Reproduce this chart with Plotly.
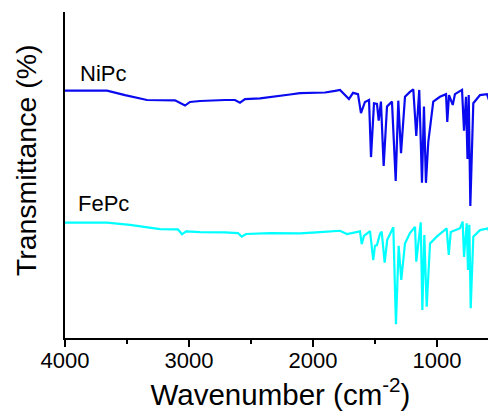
import plotly.graph_objects as go

# Wavenumber (cm^-1) and transmittance (offset, arbitrary %)
nipc_wn = [4000, 3661, 3516, 3339, 3113, 3032, 2992, 2911, 2710, 2629, 2589, 2548, 2427, 2306,
           2185, 2105, 2024, 1903, 1822, 1782, 1710, 1677, 1637, 1613, 1581, 1548, 1532, 1508,
           1484, 1470, 1452, 1430, 1403, 1363, 1333, 1312, 1290, 1258, 1218, 1191, 1167, 1143,
           1121, 1105, 1089, 1070, 1030, 976, 927, 917, 903, 873, 855, 798, 782, 766, 754, 744,
           731, 707, 653, 597, 581, 564, 524, 500]
nipc_t = [75.9, 75.9, 74.5, 73.0, 72.9, 71.3, 72.4, 72.7, 73.0, 73.0, 72.2, 73.3, 73.5, 74.2,
          74.7, 75.1, 75.2, 75.3, 75.8, 76.1, 73.3, 75.2, 74.8, 69.0, 72.4, 73.0, 55.5, 72.0,
          71.8, 66.7, 72.5, 52.8, 71.0, 72.5, 48.2, 72.8, 56.7, 74.0, 75.5, 76.3, 62.0, 76.1,
          47.6, 71.0, 47.6, 60.2, 72.5, 74.0, 74.8, 66.3, 74.5, 71.5, 74.8, 76.1, 63.6, 74.0,
          54.9, 74.5, 40.5, 72.0, 74.5, 74.8, 73.0, 75.5, 75.8, 75.8]

fepc_wn = [4000, 3661, 3476, 3234, 3089, 3056, 3024, 2911, 2710, 2605, 2575, 2540, 2347, 2105,
           1943, 1782, 1726, 1661, 1621, 1607, 1589, 1540, 1514, 1500, 1484, 1460, 1446, 1422,
           1401, 1352, 1331, 1309, 1288, 1258, 1218, 1177, 1167, 1131, 1118, 1102, 1083, 1056,
           1002, 922, 905, 889, 814, 793, 782, 760, 750, 739, 728, 707, 653, 589, 572, 556, 524, 500]
fepc_t = [35.4, 35.4, 34.7, 33.4, 33.3, 31.8, 32.7, 32.5, 32.4, 32.2, 31.1, 31.9, 32.2, 32.1,
          32.5, 32.9, 31.9, 32.5, 32.7, 28.8, 31.3, 32.8, 23.9, 28.3, 28.5, 31.9, 32.6, 23.1,
          30.1, 34.0, 4.2, 28.3, 17.8, 29.0, 32.2, 34.1, 23.4, 35.5, 8.6, 31.6, 9.6, 29.0,
          31.1, 33.6, 25.5, 32.5, 33.7, 35.7, 24.9, 35.2, 20.9, 34.7, 9.1, 31.1, 33.1, 33.6,
          32.1, 34.1, 35.2, 35.4]

labels = ["NiPc", "FePc"]
x_ticks = [4000, 3000, 2000, 1000]

FONT = "Arial, Liberation Sans, sans-serif"

fig = go.Figure()
fig.add_trace(go.Scatter(x=nipc_wn, y=nipc_t, mode="lines", name=labels[0],
                         line=dict(color="#0A0AF0", width=2.2)))
fig.add_trace(go.Scatter(x=fepc_wn, y=fepc_t, mode="lines", name=labels[1],
                         line=dict(color="#00FFFF", width=2.2)))

fig.add_annotation(x=3895, y=81.1, text=labels[0], showarrow=False, xanchor="left",
                   yanchor="middle", font=dict(family=FONT, size=22, color="black"))
fig.add_annotation(x=3911, y=41.3, text=labels[1], showarrow=False, xanchor="left",
                   yanchor="middle", font=dict(family=FONT, size=22, color="black"))

fig.add_annotation(xref="paper", yref="paper", x=-0.09, y=0.546, text="Transmittance (%)",
                   textangle=-90, showarrow=False, xanchor="center", yanchor="middle",
                   font=dict(family=FONT, size=28.5, color="black"))

fig.update_layout(
    width=488, height=407,
    margin=dict(l=57, r=0, t=4, b=77),
    paper_bgcolor="white", plot_bgcolor="white",
    showlegend=False,
    font=dict(family=FONT, color="black"),
    xaxis=dict(range=[4000, 524], tickvals=x_ticks, ticktext=[str(v) for v in x_ticks],
               showline=True, linecolor="black", linewidth=1.5, mirror=False,
               ticks="outside", ticklen=7, tickwidth=1.5, tickcolor="black",
               ticklabelstandoff=-5,
               minor=dict(tickvals=[3500, 2500, 1500], ticks="outside", ticklen=4,
                          tickwidth=1.5, tickcolor="black"),
               showgrid=False, zeroline=False,
               tickfont=dict(family=FONT, size=22, color="black"),
               title=dict(text="Wavenumber (cm<sup>-2</sup>)", standoff=8,
                          font=dict(family=FONT, size=29.5, color="black"))),
    yaxis=dict(range=[0, 100], showline=True, linecolor="black", linewidth=1.5,
               showticklabels=False, ticks="", showgrid=False, zeroline=False),
)

fig.write_html("out.html")
